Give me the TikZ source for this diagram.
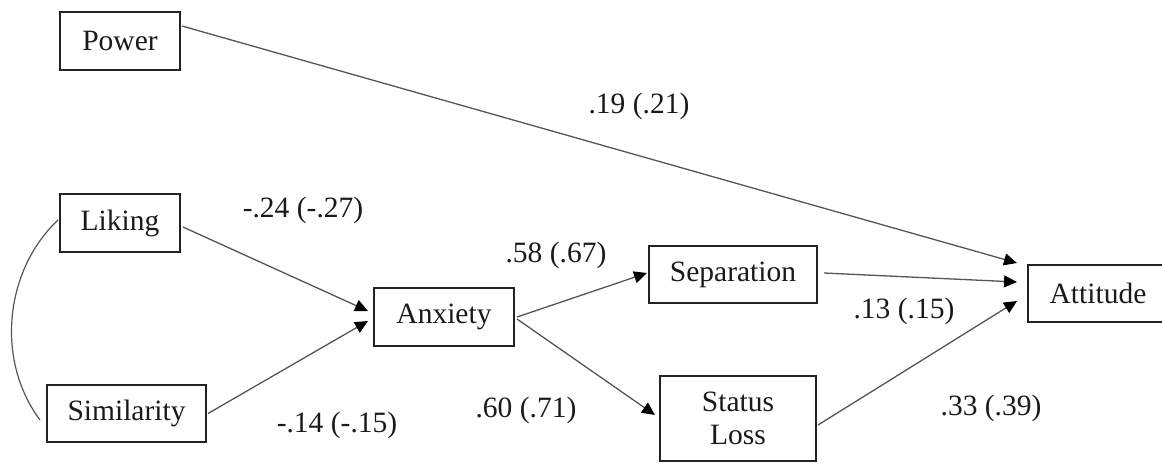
\documentclass[tikz,border=0pt]{standalone}
\usepackage{fontspec}
\setmainfont{Liberation Serif}
\usetikzlibrary{arrows.meta,calc}
\definecolor{boxline}{HTML}{222222}
\definecolor{conn}{HTML}{555555}
\definecolor{txt}{HTML}{1A1A1A}
\begin{document}
\begin{tikzpicture}[x=1pt,y=-1pt,
  varbox/.style={draw=boxline,line width=2pt,rectangle,inner sep=0pt,align=center,
    text=txt,font=\fontsize{29.5}{34}\selectfont},
  coef/.style={inner sep=0pt,text=txt,font=\fontsize{29.5}{34}\selectfont},
  path/.style={draw=conn,line width=1.3pt,-{Triangle[length=13pt,width=12pt]},
    arrows={[fill=black,color=black]}},
  corr/.style={draw=conn,line width=1.2pt}]
\useasboundingbox (0,0) rectangle (1162,464);

\node[varbox,minimum width=120pt,minimum height=58pt] (power) at (120,41) {Power};
\node[varbox,minimum width=120pt,minimum height=58pt] (liking) at (120,223) {Liking};
\node[varbox,minimum width=159pt,minimum height=57pt] (similarity) at (126.5,413.5) {Similarity};
\node[varbox,minimum width=140pt,minimum height=58pt] (anxiety) at (444,317) {Anxiety};
\node[varbox,minimum width=168pt,minimum height=57pt] (separation) at (733,274.5) {Separation};
\node[varbox,minimum width=156pt,minimum height=85pt] (statusloss) at (738,418.5) {Status\\[-1pt]Loss};
\node[varbox,minimum width=140pt,minimum height=57pt] (attitude) at (1098,293) {Attitude};

% paths
\draw[path] ($(power.east)+(1,-15)$) -- ($(attitude.west)+(-10,-30)$);
\draw[path] ($(liking.east)+(2,4)$) -- ($(anxiety.west)+(-5,-6)$);
\draw[path] ($(similarity.east)+(1,0)$) -- ($(anxiety.west)+(-5,4)$);
\draw[path] ($(anxiety.east)+(2,0)$) -- ($(separation.west)+(-1,-1.5)$);
\draw[path] ($(anxiety.east)+(2,2)$) -- ($(statusloss.west)+(-4,-3.5)$);
\draw[path] ($(separation.east)+(6,-1.5)$) -- ($(attitude.west)+(-10,-11)$);
\draw[path] ($(statusloss.east)+(1,6.5)$) -- ($(attitude.west)+(-10,8)$);

% correlation
\draw[corr] ($(liking.west)+(-1,-3)$) .. controls ($(liking.west)+(-54,47)$) and ($(similarity.west)+(-51,-54)$) .. ($(similarity.west)+(-6,6.5)$);

% coefficients
\node[coef] (c1) at (639,106) {.19 (.21)};
\node[coef] (c2) at (303,210) {-.24 (-.27)};
\node[coef] (c3) at (337,425) {-.14 (-.15)};
\node[coef] (c4) at (556,255) {.58 (.67)};
\node[coef] (c5) at (526,410) {.60 (.71)};
\node[coef] (c6) at (904,311) {.13 (.15)};
\node[coef] (c7) at (991,408) {.33 (.39)};
\end{tikzpicture}
\end{document}
